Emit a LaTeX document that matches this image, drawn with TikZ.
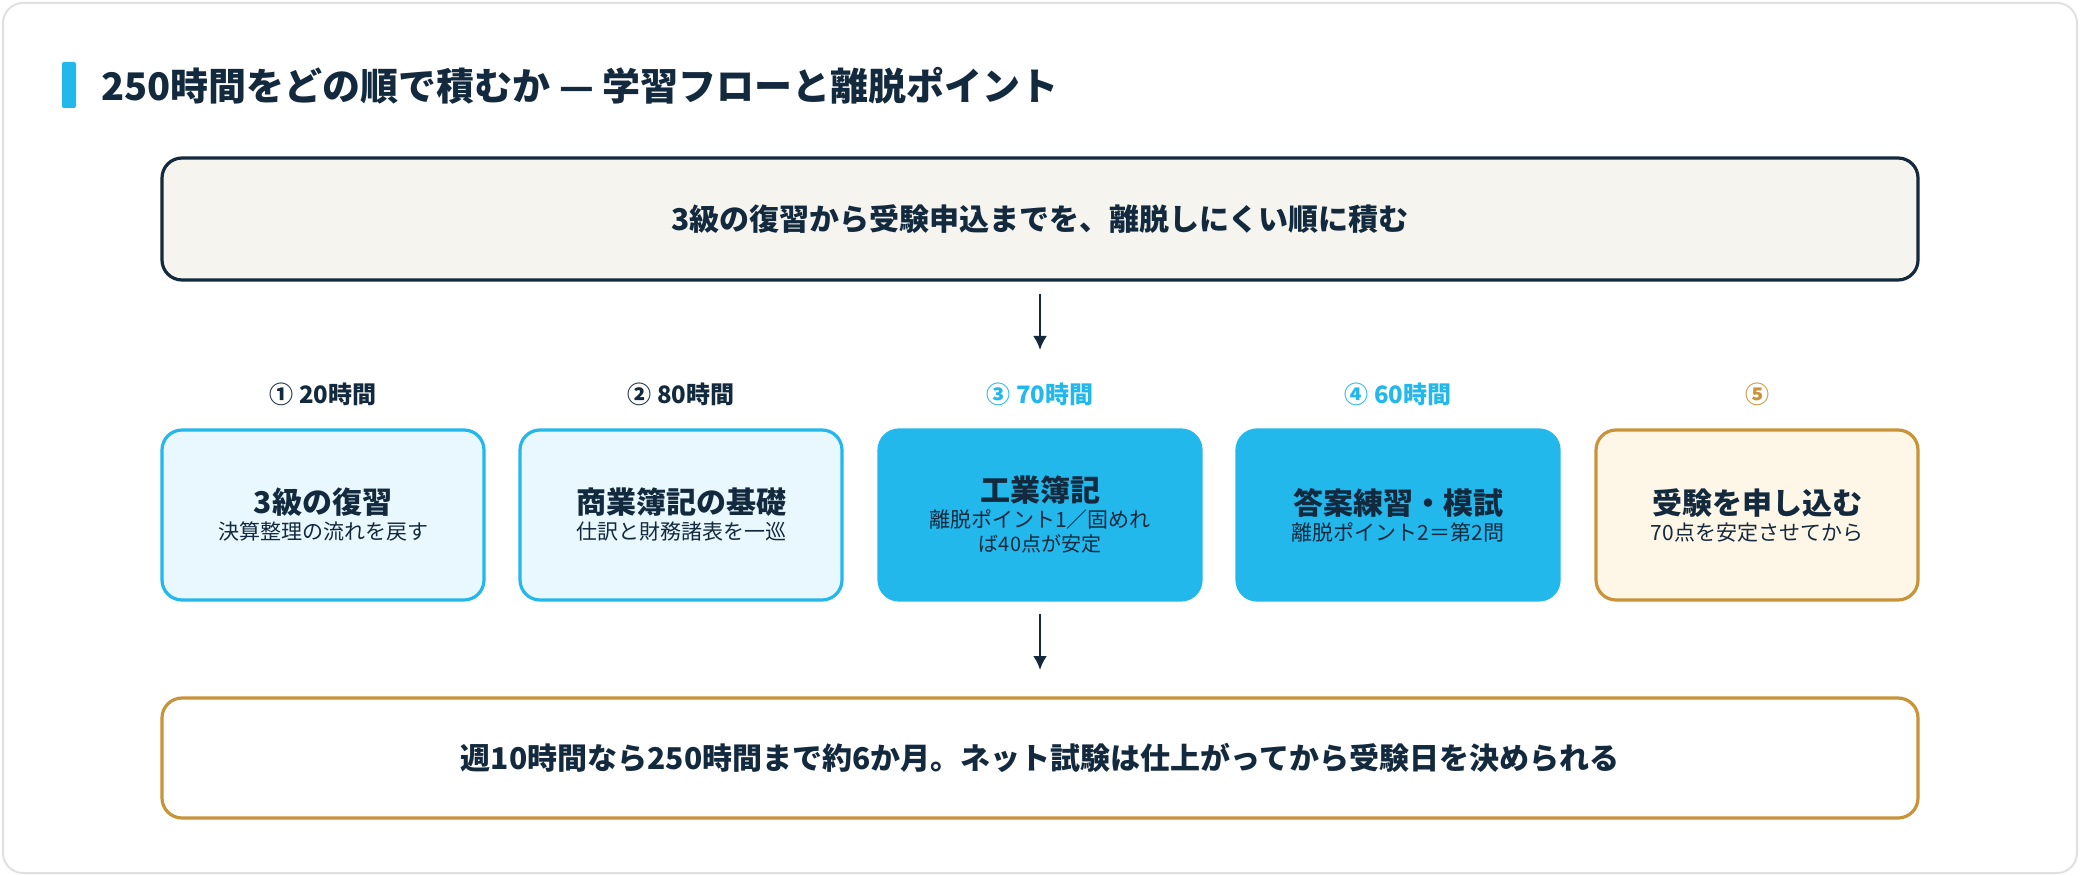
\documentclass[tikz,border=0pt]{standalone}
\usepackage{fontspec}
\setmainfont{Noto Sans CJK JP}
\usetikzlibrary{positioning}
\usetikzlibrary{arrows.meta}
\definecolor{navy}{HTML}{13293D}
\definecolor{cyanB}{HTML}{22B8EC}
\definecolor{cyanL}{HTML}{E9F8FE}
\definecolor{gold}{HTML}{C9933A}
\definecolor{cream}{HTML}{FEF6E6}
\definecolor{paper}{HTML}{F5F4EE}
\tikzset{
  stage/.style={draw=cyanB, line width=1.6pt, rounded corners=10pt, minimum width=161pt, minimum height=85pt, text=navy, align=center},
  hours/.style={font=\bfseries\fontsize{12}{14}\selectfont},
  flow/.style={navy, line width=1.3pt, -{Latex[length=7pt,width=7pt]}}
}
\newcommand{\stagetext}[2]{\bfseries\fontsize{15}{18}\selectfont #1\\[1pt]\mdseries\fontsize{10.5}{15}\selectfont #2}
\begin{document}
\begin{tikzpicture}[x=0.5pt, y=-0.5pt]
        \useasboundingbox (0,0) rectangle (2080,876);
        % card
        \draw[draw=black!12, fill=white, line width=1pt, rounded corners=10pt] (3,3) rectangle (2077,873);
        \fill[cyanB, rounded corners=1pt] (62,62) rectangle (76,108);
        \node[anchor=west, text=navy, font=\bfseries\fontsize{19}{22}\selectfont] (title) at (94,86) {250時間をどの順で積むか — 学習フローと離脱ポイント};
        % top banner
        \node[draw=navy, fill=paper, line width=1.6pt, rounded corners=10pt, minimum width=878pt, minimum height=61pt, text=navy, font=\bfseries\fontsize{15}{18}\selectfont] (goal) at (1040,219) {3級の復習から受験申込までを、離脱しにくい順に積む};
        % stages
        \node[stage, fill=cyanL] (s1) at (323,515) {\stagetext{3級の復習}{決算整理の流れを戻す}};
        \node[stage, fill=cyanL] (s2) at (681,515) {\stagetext{商業簿記の基礎}{仕訳と財務諸表を一巡}};
        \node[stage, fill=cyanB] (s3) at (1040,515) {\stagetext{工業簿記}{離脱ポイント1／固めれ\\ば40点が安定}};
        \node[stage, fill=cyanB] (s4) at (1398,515) {\stagetext{答案練習・模試}{離脱ポイント2＝第2問}};
        \node[stage, fill=cream, draw=gold] (s5) at (1757,515) {\stagetext{受験を申し込む}{70点を安定させてから}};
        % hours
        \node[hours, text=navy, above=8pt of s1] (h1) {① 20時間};
        \node[hours, text=navy, above=8pt of s2] (h2) {② 80時間};
        \node[hours, text=cyanB, above=8pt of s3] (h3) {③ 70時間};
        \node[hours, text=cyanB, above=8pt of s4] (h4) {④ 60時間};
        \node[hours, text=gold, above=8pt of s5] (h5) {⑤};
        % bottom banner
        \node[draw=gold, fill=white, line width=1.6pt, rounded corners=10pt, minimum width=878pt, minimum height=60pt, text=navy, font=\bfseries\fontsize{15}{18}\selectfont] (plan) at (1040,758) {週10時間なら250時間まで約6か月。ネット試験は仕上がってから受験日を決められる};
        % arrows
        \coordinate (a1) at (1040,294);
        \coordinate (a2) at (1040,350);
        \coordinate (b1) at (1040,614);
        \coordinate (b2) at (1040,670);
        \draw[flow] (a1) -- (a2);
        \draw[flow] (b1) -- (b2);
\end{tikzpicture}
\end{document}
